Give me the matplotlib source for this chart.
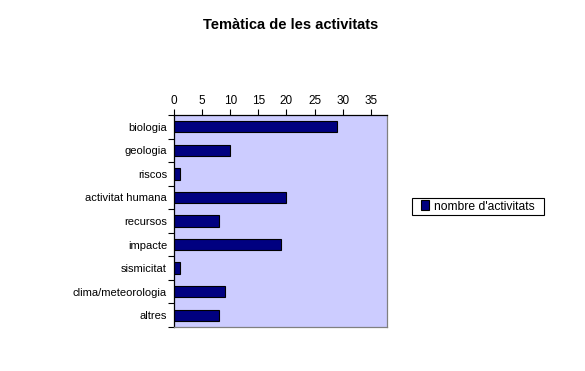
import numpy as np
import matplotlib
matplotlib.use("Agg")
import matplotlib.pyplot as plt
from matplotlib.patches import Rectangle
from matplotlib.ticker import FixedLocator, NullFormatter

categories = ["biologia", "geologia", "riscos", "activitat humana", "recursos",
              "impacte", "sismicitat", "clima/meteorologia", "altres"]
values = [29, 10, 1, 20, 8, 19, 1, 9, 8]
xticks = [0, 5, 10, 15, 20, 25, 30, 35]

plt.rcParams["font.family"] = ["Liberation Sans", "DejaVu Sans"]

W, H = 585, 371
fig = plt.figure(figsize=(W / 100, H / 100), dpi=100)
ax = fig.add_axes([174 / W, 1 - 327 / H, 213 / W, 212 / H])
ax.set_facecolor("#CCCCFF")

y = np.arange(len(categories))
ax.barh(y, values, height=0.48, color="#000080", edgecolor="black",
        linewidth=0.8, label="nombre d'activitats")

ax.set_xlim(0, 37.9)
ax.set_ylim(len(categories) - 0.5, -0.5)
ax.set_yticks(y)
ax.set_yticklabels(categories, fontsize=8)
ax.yaxis.set_minor_locator(FixedLocator(np.arange(-0.5, len(categories), 1)))
ax.yaxis.set_minor_formatter(NullFormatter())
ax.tick_params(axis="y", which="major", length=0, pad=5)
ax.tick_params(axis="y", which="minor", length=4, width=0.8, direction="out")

ax.set_xticks(xticks)
ax.xaxis.tick_top()
ax.tick_params(axis="x", labelsize=8.5, length=4, width=0.8, direction="out", pad=2)

for s in ["left", "top"]:
    ax.spines[s].set_color("black")
    ax.spines[s].set_linewidth(0.9)
for s in ["right", "bottom"]:
    ax.spines[s].set_color("#808080")
    ax.spines[s].set_linewidth(0.9)

# legend box drawn by hand so it can be wide and short like the original
fig.patches.append(Rectangle((412 / W, 1 - 215 / H), 132 / W, 17 / H,
                             transform=fig.transFigure, facecolor="white",
                             edgecolor="black", linewidth=0.8, zorder=-1))
ax.legend(loc="center", bbox_to_anchor=(478 / W, 1 - 206.5 / H),
          bbox_transform=fig.transFigure, fontsize=8.7, frameon=False,
          handlelength=0.7, handleheight=0.9, handletextpad=0.4, borderpad=0)

fig.text(291 / W, 1 - 25 / H, "Temàtica de les activitats", ha="center",
         va="center", fontsize=10.5, fontweight="bold")

fig.savefig("out.png", dpi=100, facecolor="white")
